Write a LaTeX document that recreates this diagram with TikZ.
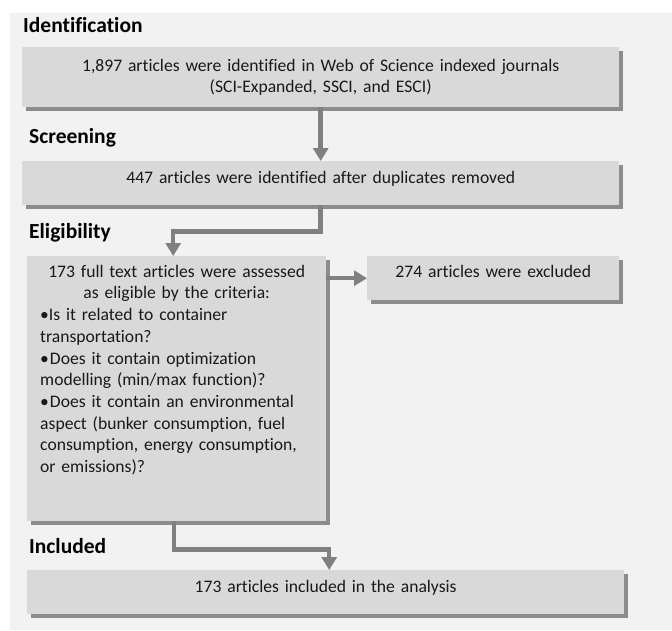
\documentclass[tikz,border=0pt]{standalone}
\usepackage{fontspec}
\setmainfont{Carlito}[RawFeature={-liga;-clig;-dlig;-calt}]
\usetikzlibrary{arrows.meta,shadows}
\definecolor{panelgray}{RGB}{242,242,242}
\definecolor{boxgray}{RGB}{217,217,217}
\definecolor{shadegray}{RGB}{140,140,140}
\definecolor{linkgray}{RGB}{128,128,128}
\begin{document}
\begin{tikzpicture}[x=1pt,y=-1pt,line join=miter,
		font=\fontsize{17.6}{21.7}\selectfont,
		stagebox/.style={draw=none,fill=boxgray,anchor=north west,inner xsep=13pt,inner ysep=8pt,
			text height=13pt,text=black!90,align=center,
			drop shadow={shadow xshift=3.5pt,shadow yshift=-3.5pt,fill=shadegray,opacity=1}},
		phase/.style={anchor=base west,inner sep=0pt,font=\fontsize{21.5}{25}\selectfont\bfseries},
		link/.style={linkgray,line width=4.5pt,-{Triangle[width=15pt,length=13pt]}}]
	\useasboundingbox (0,0) rectangle (672,630);
	\fill[panelgray] (10,13) rectangle (672,630);
	\node[phase] (idt) at (23,32) {Identification};
	\node[phase] (scr) at (29,143) {Screening};
	\node[phase] (elg) at (29,238) {Eligibility};
	\node[phase] (inc) at (29,553) {Included};
	\node[stagebox,text width=571pt,text height=16pt,text depth=28pt] (found) at (22,47)
		{1,897 articles were identified in Web of Science indexed journals\\(SCI-Expanded, SSCI, and ESCI)};
	\node[stagebox,text width=571pt,text height=14pt,text depth=14pt] (dedup) at (22,161)
		{447 articles were identified after duplicates removed};
	\node[stagebox,text width=273pt,text depth=236pt,align=left] (assess) at (27,256)
		{{\centering 173 full text articles were assessed\\as eligible by the criteria:\par}
		\textbullet Is it related to container\\transportation?\\
		\textbullet\kern1pt Does it contain optimization\\modelling (min/max function)?\\
		\textbullet\kern1pt Does it contain an environmental\\aspect (bunker consumption, fuel\\consumption, energy consumption,\\or emissions)?};
	\node[stagebox,text width=226pt,text depth=15pt] (excl) at (367,256)
		{274 articles were excluded};
	\node[stagebox,text width=571pt,text height=14pt,text depth=14pt] (final) at (27,570)
		{173 articles included in the analysis};
	\draw[link] (found.south) -- (dedup.north);
	\draw[link] (dedup.south) -- ++(0,26) -| ([xshift=-3.5pt]assess.north);
	\draw[link] (assess.east |- excl.west) -- (excl.west);
	\draw[link] ([xshift=-2.5pt]assess.south) -- ++(0,28) -| ([xshift=3.5pt]final.north);
\end{tikzpicture}
\end{document}
